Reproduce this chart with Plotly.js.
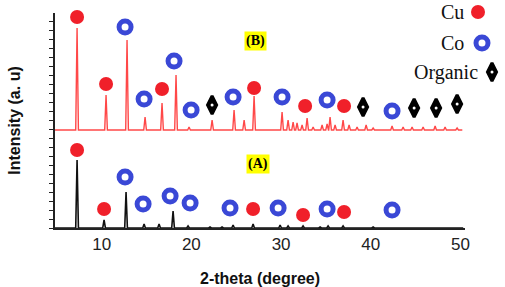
<!DOCTYPE html>
<html>
<head>
<meta charset="utf-8">
<script src="https://cdn.plot.ly/plotly-3.0.1.min.js"></script>
<style>html,body{margin:0;padding:0;background:#fff;}#chart{width:505px;height:287px;}</style>
</head>
<body>
<div id="chart"></div>
<script>
// ---- Data (2-theta in degrees, intensity in a.u.) ----
// Pattern B (upper, red)
const peaksB_x = [7.26, 10.49, 12.83, 14.84, 16.73, 18.29, 19.74, 22.31, 24.76, 25.88, 26.99,
  30.11, 30.78, 31.34, 31.78, 32.34, 32.90, 33.57, 34.57, 35.13, 35.46, 36.02, 36.91, 37.58,
  38.47, 39.48, 40.26, 42.37, 43.60, 44.60, 45.83, 47.17, 48.28, 49.62];
const peaksB_h = [102, 35, 90, 13, 27, 55, 3, 10, 20, 10, 34,
  18, 10, 8, 7, 5, 12, 3, 5, 6, 13, 5, 10, 5,
  3, 5, 2, 4, 3, 3, 3, 4, 3, 2];
// Pattern A (lower, black)
const peaksA_x = [7.26, 10.27, 12.72, 14.73, 16.40, 17.96, 19.63, 22.08, 23.42, 24.65, 26.88,
  29.89, 30.78, 32.45, 34.35, 35.24, 36.91, 40.26];
const peaksA_h = [68, 8, 36, 4, 4, 17, 2, 1, 1, 3, 4,
  3, 2, 2, 1, 2, 2, 1];
const scanStart = 4.8, scanEndB = 50.2, scanEndA = 50.3;

// Phase labels on pattern B
const cuB_x = [7.26, 10.49, 16.73, 26.99, 32.68, 37.02];
const cuB_y = [211, 144, 139, 140, 122, 122];
const coB_x = [12.61, 14.73, 18.07, 19.97, 24.65, 30.11, 35.13, 42.37];
const coB_y = [201, 129, 167, 118, 131, 131, 128, 117];
const orgB_x = [22.31, 39.14, 44.83, 47.28, 49.62];
const orgB_y = [123, 121, 120, 120, 124];
// Phase labels on pattern A
const cuA_x = [7.26, 10.27, 26.88, 32.45, 37.02];
const cuA_y = [78, 19, 19, 13, 16];
const coA_x = [12.61, 14.62, 17.63, 19.86, 24.31, 29.67, 35.13, 42.37];
const coA_y = [51, 24, 32, 25, 20, 20, 19, 18];

// Legend
const legendNames = ["Cu", "Co", "Organic"];
const xTicks = [10, 20, 30, 40, 50];

// ---- build traces ----
const offsetB = 98;       // vertical stacking offset of pattern B
const halfWidth = 0.15;   // drawn half-width of a peak (deg)

function pattern(px, ph, start, end, off) {
  const x = [start], y = [off];
  px.forEach((p, i) => {
    x.push(p - halfWidth, p, p + halfWidth);
    y.push(off, off + ph[i], off);
  });
  x.push(end); y.push(off);
  return {x, y};
}
const pb = pattern(peaksB_x, peaksB_h, scanStart, scanEndB, offsetB);
const pa = pattern(peaksA_x, peaksA_h, scanStart, scanEndA, 0);

const RED = "#f0202a", BLUE = "#3a48d6";
const cuMarker = {symbol: "circle", size: 14, color: RED};
const coMarker = {symbol: "circle-open", size: 12, color: BLUE, line: {width: 5, color: BLUE}};
const orgMarker = {symbol: "diamond-tall", size: 13, color: "#000", line: {width: 3, color: "#000"}};
const dotMarker = {symbol: "circle", size: 3, color: "#fff"};

const mk = (x, y, marker, ax) => Object.assign({type: "scatter", mode: "markers", x, y, marker, cliponaxis: false, hoverinfo: "skip", showlegend: false}, ax || {});
const onKey = {xaxis: "x2", yaxis: "y2"};

// key positions on the overlay axes (pixel-like units of the figure)
const keySymX = [478, 482, 492];
const keyY = [216, 185, 156];
const keyTextX = [452, 452, 446];

const traces = [
  {type: "scatter", mode: "lines", x: pb.x, y: pb.y, line: {color: "#ff4848", width: 1.4}, showlegend: false, hoverinfo: "skip"},
  {type: "scatter", mode: "lines", x: pa.x, y: pa.y, line: {color: "#111", width: 1.6}, showlegend: false, hoverinfo: "skip"},
  mk(cuB_x, cuB_y, cuMarker), mk(coB_x, coB_y, coMarker), mk(orgB_x, orgB_y, orgMarker), mk(orgB_x, orgB_y, dotMarker),
  mk(cuA_x, cuA_y, cuMarker), mk(coA_x, coA_y, coMarker),
  mk([keySymX[0]], [keyY[0]], cuMarker, onKey), mk([keySymX[1]], [keyY[1]], coMarker, onKey),
  mk([keySymX[2]], [keyY[2]], orgMarker, onKey), mk([keySymX[2]], [keyY[2]], dotMarker, onKey)
];

const serif = "Liberation Serif, Times New Roman, serif";
const sans = "Liberation Sans, Arial, sans-serif";
const annotations = legendNames.map((t, i) => ({
  x: keyTextX[i], y: keyY[i], xref: "x2", yref: "y2", text: t, showarrow: false,
  font: {family: serif, size: 20, color: "#111"}
}));
annotations.push(
  {x: 27.1, y: 187, xref: "x", yref: "y", text: "<b>(B)</b>", showarrow: false, bgcolor: "#ffff00", borderpad: 1, font: {family: serif, size: 14, color: "#000"}},
  {x: 27.44, y: 64, xref: "x", yref: "y", text: "<b>(A)</b>", showarrow: false, bgcolor: "#ffff00", borderpad: 1, font: {family: serif, size: 14, color: "#000"}}
);

const layout = {
  width: 505, height: 287,
  margin: {l: 55, r: 5, t: 5, b: 59},
  paper_bgcolor: "#fff", plot_bgcolor: "rgba(0,0,0,0)",
  showlegend: false,
  xaxis: {
    domain: [0, 410 / 445],
    range: [4.8, 50.5], tickvals: xTicks, ticktext: xTicks.map(String),
    showgrid: false, zeroline: false, showline: true, linecolor: "#222", linewidth: 1.5,
    ticks: "", ticklen: 0,
    tickfont: {family: sans, size: 17, color: "#222"},
    title: {text: "<b>2-theta (degree)</b>", font: {family: sans, size: 16, color: "#111"}},
    automargin: false
  },
  yaxis: {
    domain: [0, 215 / 223],
    range: [0, 215], dtick: 9, showticklabels: false,
    showgrid: false, zeroline: false, showline: true, linecolor: "#222", linewidth: 2,
    ticks: "outside", ticklen: 4, tickcolor: "#222", tickwidth: 1,
    title: {text: "<b>Intensity (a. u)</b>", font: {family: sans, size: 16, color: "#111"}},
    automargin: false
  },
  xaxis2: {domain: [0, 1], range: [55, 500], visible: false, anchor: "y2", fixedrange: true},
  yaxis2: {domain: [0, 1], range: [0, 223], visible: false, anchor: "x2", fixedrange: true},
  annotations
};
Plotly.newPlot("chart", traces, layout, {staticPlot: true, displayModeBar: false});
</script>
</body>
</html>
